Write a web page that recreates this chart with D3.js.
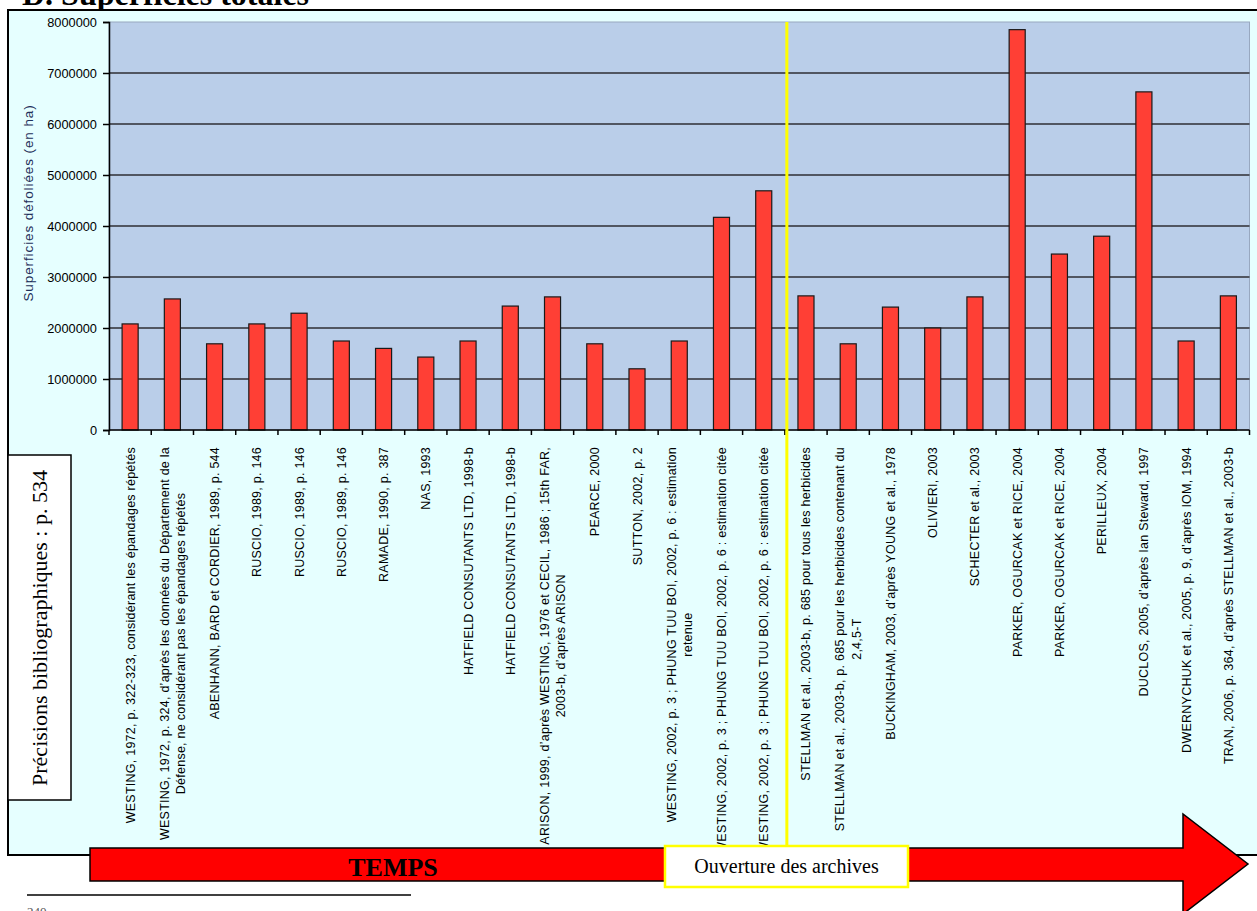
<!DOCTYPE html>
<html lang="fr">
<head>
  <meta charset="UTF-8" />
  <title>D. Superficies totales</title>
  <script src="https://cdn.jsdelivr.net/npm/d3@7"></script>
  <style>
    body { margin: 0; background: #fff; }
    svg { display: block; }
  </style>
</head>
<body>
<script>
  // categories (line breaks as in the original Excel labels)
  const sources = [
    ["WESTING, 1972, p. 322-323, considérant les épandages répétés"],
    ["WESTING, 1972, p. 324, d’après les données du Département de la", "Défense, ne considérant pas les épandages répétés"],
    ["ABENHANN, BARD et  CORDIER, 1989, p. 544"],
    ["RUSCIO, 1989, p. 146"],
    ["RUSCIO, 1989, p. 146"],
    ["RUSCIO, 1989, p. 146"],
    ["RAMADE, 1990, p. 387"],
    ["NAS, 1993"],
    ["HATFIELD CONSUTANTS LTD, 1998-b"],
    ["HATFIELD CONSUTANTS LTD, 1998-b"],
    ["ARISON, 1999, d’après WESTING, 1976 et CECIL, 1986 ; 15th FAR,", "2003-b, d’après ARISON"],
    ["PEARCE, 2000"],
    ["SUTTON, 2002, p. 2"],
    ["WESTING, 2002, p. 3 ; PHUNG TUU BOI, 2002, p. 6 : estimation", "retenue"],
    ["WESTING, 2002, p. 3 ; PHUNG TUU BOI, 2002, p. 6 : estimation citée"],
    ["WESTING, 2002, p. 3 ; PHUNG TUU BOI, 2002, p. 6 : estimation citée"],
    ["STELLMAN et al., 2003-b, p. 685 pour tous les herbicides"],
    ["STELLMAN et al., 2003-b, p. 685 pour les herbicides contenant du", "2,4,5-T"],
    ["BUCKINGHAM, 2003, d’après YOUNG et al., 1978"],
    ["OLIVIERI, 2003"],
    ["SCHECTER et al., 2003"],
    ["PARKER, OGURCAK et RICE, 2004"],
    ["PARKER, OGURCAK et RICE, 2004"],
    ["PERILLEUX, 2004"],
    ["DUCLOS, 2005, d’après Ian Steward, 1997"],
    ["DWERNYCHUK et al., 2005, p. 9, d’après IOM, 1994"],
    ["TRAN, 2006, p. 364, d’après STELLMAN et al., 2003-b"]
  ];

  // superficies défoliées (ha)
  const surfaces = [
    2080000, 2570000, 1690000, 2080000, 2290000, 1745000, 1600000, 1430000, 1745000,
    2430000, 2610000, 1690000, 1200000, 1745000, 4170000, 4690000, 2630000, 1690000,
    2410000, 2000000, 2610000, 7850000, 3450000, 3800000, 6630000, 1745000, 2630000
  ];

  const yTicks = [0, 1000000, 2000000, 3000000, 4000000, 5000000, 6000000, 7000000, 8000000];

  // index after which the archives were opened
  const archivesIndex = 16;

  const W = 1257, H = 911;
  const sans = "'Liberation Sans', Arial, sans-serif";
  const serif = "'Liberation Serif', 'Times New Roman', serif";

  const svg = d3.select('body').append('svg')
    .attr('width', W)
    .attr('height', H);

  // title (cut by the page top in the original)
  svg.append('text')
    .attr('x', 22).attr('y', 5)
    .attr('font-family', serif)
    .attr('font-weight', 'bold')
    .attr('font-size', 32)
    .text('D. Superficies totales');

  // chart frame
  svg.append('rect')
    .attr('x', 8).attr('y', 10)
    .attr('width', 1262).attr('height', 845)
    .attr('fill', '#E6FFFF')
    .attr('stroke', '#000')
    .attr('stroke-width', 2);

  const plot = { left: 109, right: 1249.5, top: 22, bottom: 430 };

  const x = d3.scaleBand()
    .domain(d3.range(sources.length))
    .range([plot.left, plot.right])
    .paddingInner(0.62)
    .paddingOuter(0.31);

  const y = d3.scaleLinear()
    .domain([0, 8000000])
    .range([plot.bottom, plot.top]);

  // plot background
  svg.append('rect')
    .attr('x', plot.left).attr('y', plot.top)
    .attr('width', plot.right - plot.left)
    .attr('height', plot.bottom - plot.top)
    .attr('fill', '#BACEE9')
    .attr('stroke', '#98A8C0')
    .attr('stroke-width', 1);

  // gridlines
  svg.append('g')
    .selectAll('line')
    .data(yTicks.slice(1, -1))
    .join('line')
    .attr('x1', plot.left).attr('x2', plot.right)
    .attr('y1', d => y(d)).attr('y2', d => y(d))
    .attr('stroke', '#2E2E33')
    .attr('stroke-width', 1.6);

  // bars
  svg.append('g')
    .selectAll('rect')
    .data(surfaces)
    .join('rect')
    .attr('x', (d, i) => x(i))
    .attr('y', d => y(d))
    .attr('width', x.bandwidth())
    .attr('height', d => y(0) - y(d))
    .attr('fill', '#FF3F35')
    .attr('stroke', '#1A1A1A')
    .attr('stroke-width', 1.2);

  // y axis
  const yAxis = svg.append('g')
    .attr('transform', `translate(${plot.left},0)`)
    .call(d3.axisLeft(y).tickValues(yTicks).tickFormat(d3.format('d')).tickSizeOuter(0).tickSize(6).tickPadding(6));
  yAxis.select('.domain').attr('stroke', '#000').attr('stroke-width', 1.5);
  yAxis.selectAll('.tick line').attr('stroke', '#000').attr('stroke-width', 1.5);
  yAxis.selectAll('.tick text')
    .attr('font-family', sans)
    .attr('font-size', 12.8)
    .attr('fill', '#000');

  // x axis: baseline and ticks on category boundaries
  const step = x.step();
  svg.append('line')
    .attr('x1', plot.left).attr('x2', plot.right)
    .attr('y1', plot.bottom).attr('y2', plot.bottom)
    .attr('stroke', '#000').attr('stroke-width', 1.5);
  svg.append('g')
    .selectAll('line')
    .data(d3.range(sources.length + 1))
    .join('line')
    .attr('x1', i => plot.left + i * step).attr('x2', i => plot.left + i * step)
    .attr('y1', plot.bottom).attr('y2', plot.bottom + 5)
    .attr('stroke', '#000').attr('stroke-width', 1.5);

  // y axis title
  svg.append('text')
    .attr('transform', 'translate(33,203) rotate(-90)')
    .attr('text-anchor', 'middle')
    .attr('font-family', sans)
    .attr('font-size', 13.5)
    .attr('letter-spacing', 0.9)
    .attr('fill', '#1F2F5A')
    .text('Superficies défoliées (en ha)');

  // category labels, rotated, wrapped lines centred on the longest one
  const lineH = 16.5;
  const labelTop = 447;
  const labels = svg.append('g')
    .selectAll('g')
    .data(sources)
    .join('g')
    .attr('transform', (d, i) => `translate(${x(i) + x.bandwidth() / 2},${labelTop}) rotate(-90)`);

  labels.each(function(lines) {
    const g = d3.select(this);
    const texts = g.selectAll('text')
      .data(lines)
      .join('text')
      .attr('font-family', sans)
      .attr('font-size', 12.5)
      .attr('letter-spacing', 0.25)
      .attr('fill', '#000')
      .attr('text-anchor', 'middle')
      .attr('y', (d, k) => (k - (lines.length - 1) / 2) * lineH)
      .attr('dy', '0.36em')
      .text(d => d);
    const maxLen = d3.max(texts.nodes(), n => n.getComputedTextLength());
    texts.attr('x', -maxLen / 2);
  });

  // archives opening line
  const xArch = plot.left + archivesIndex * step + 2;
  svg.append('line')
    .attr('x1', xArch).attr('x2', xArch)
    .attr('y1', plot.top).attr('y2', 846)
    .attr('stroke', '#FFFF00')
    .attr('stroke-width', 3);

  // bibliography box
  svg.append('rect')
    .attr('x', 8).attr('y', 455)
    .attr('width', 63).attr('height', 345)
    .attr('fill', '#fff')
    .attr('stroke', '#000')
    .attr('stroke-width', 1.5);
  svg.append('text')
    .attr('transform', 'translate(47,628) rotate(-90)')
    .attr('text-anchor', 'middle')
    .attr('font-family', serif)
    .attr('font-size', 22)
    .text('Précisions bibliographiques : p. 534');

  // time arrow
  const arrow = d3.path();
  arrow.moveTo(90, 848);
  arrow.lineTo(1183, 848);
  arrow.lineTo(1183, 814);
  arrow.lineTo(1248, 864);
  arrow.lineTo(1183, 914);
  arrow.lineTo(1183, 881);
  arrow.lineTo(90, 881);
  arrow.closePath();
  svg.append('path')
    .attr('d', arrow.toString())
    .attr('fill', '#FF0000')
    .attr('stroke', '#000')
    .attr('stroke-width', 1.5);

  svg.append('text')
    .attr('x', 393).attr('y', 876)
    .attr('text-anchor', 'middle')
    .attr('font-family', serif)
    .attr('font-weight', 'bold')
    .attr('font-size', 26)
    .text('TEMPS');

  // archives box
  svg.append('rect')
    .attr('x', 665).attr('y', 846)
    .attr('width', 243).attr('height', 41)
    .attr('fill', '#fff')
    .attr('stroke', '#FFFF00')
    .attr('stroke-width', 2.5);
  svg.append('text')
    .attr('x', 786.5).attr('y', 873)
    .attr('text-anchor', 'middle')
    .attr('font-family', serif)
    .attr('font-size', 20)
    .text('Ouverture des archives');

  // footnote rule
  svg.append('line')
    .attr('x1', 27).attr('x2', 411)
    .attr('y1', 895).attr('y2', 895)
    .attr('stroke', '#000')
    .attr('stroke-width', 1.6);
  svg.append('text')
    .attr('x', 27).attr('y', 916)
    .attr('font-family', serif)
    .attr('font-size', 13)
    .attr('fill', '#555')
    .text('240');
</script>
</body>
</html>
